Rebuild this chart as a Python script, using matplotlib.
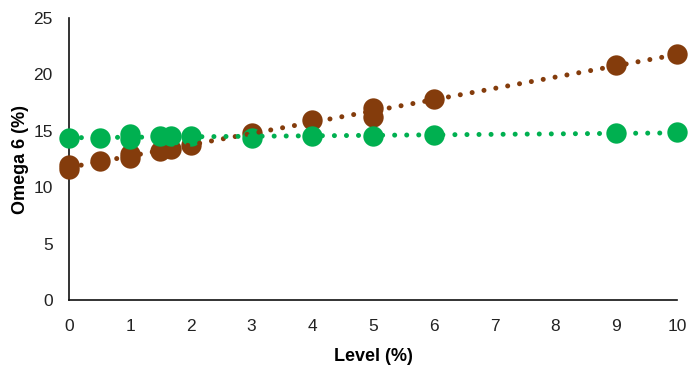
import numpy as np
import matplotlib
matplotlib.use("Agg")
import matplotlib.pyplot as plt

plt.rcParams['font.family'] = ['Liberation Sans', 'DejaVu Sans']

brown_x = [0, 0, 0.5, 1, 1, 1.5, 1.67, 2, 3, 4, 5, 5, 6, 9, 10]
brown_y = [11.6, 12.0, 12.3, 12.6, 12.9, 13.2, 13.4, 13.7, 14.8, 16.0, 16.2, 17.0, 17.8, 20.8, 21.8]
green_x = [0, 0.5, 1, 1, 1.5, 1.67, 2, 3, 4, 5, 6, 9, 10]
green_y = [14.4, 14.4, 14.25, 14.7, 14.5, 14.5, 14.5, 14.4, 14.5, 14.5, 14.6, 14.8, 14.9]
x_ticks = [0, 1, 2, 3, 4, 5, 6, 7, 8, 9, 10]
y_ticks = [0, 5, 10, 15, 20, 25]

BROWN = '#843C0C'
GREEN = '#00B050'

fig = plt.figure(figsize=(7.0, 3.85), dpi=100)
ax = fig.add_axes([0.099, 0.221, 0.868, 0.732])

ax.scatter(brown_x, brown_y, s=215, color=BROWN, zorder=3, linewidths=0, clip_on=False)
ax.scatter(green_x, green_y, s=215, color=GREEN, zorder=4, linewidths=0, clip_on=False)

xs = np.array([0, 10])
for xv, yv, c, z in [(brown_x, brown_y, BROWN, 5), (green_x, green_y, GREEN, 6)]:
    m, b = np.polyfit(xv, yv, 1)
    ax.plot(xs, m * xs + b, color=c, lw=3.6, linestyle=(0, (0.01, 2.4)),
            dash_capstyle='round', zorder=z, clip_on=False)

ax.set_xlim(0, 10)
ax.set_ylim(0, 25)
ax.set_xticks(x_ticks)
ax.set_yticks(y_ticks)
ax.tick_params(length=0, labelsize=12.5, colors='#222222')
ax.tick_params(axis='x', pad=14)
ax.tick_params(axis='y', pad=12)
for s in ['top', 'right']:
    ax.spines[s].set_visible(False)
for s in ['left', 'bottom']:
    ax.spines[s].set_color('#111111')
    ax.spines[s].set_linewidth(1.2)
    ax.spines[s].set_zorder(2)

ax.set_xlabel('Level (%)', fontsize=13, fontweight='bold', labelpad=10)
ax.set_ylabel('Omega 6 (%)', fontsize=13, fontweight='bold', labelpad=3)

fig.savefig('out.png', dpi=100)
